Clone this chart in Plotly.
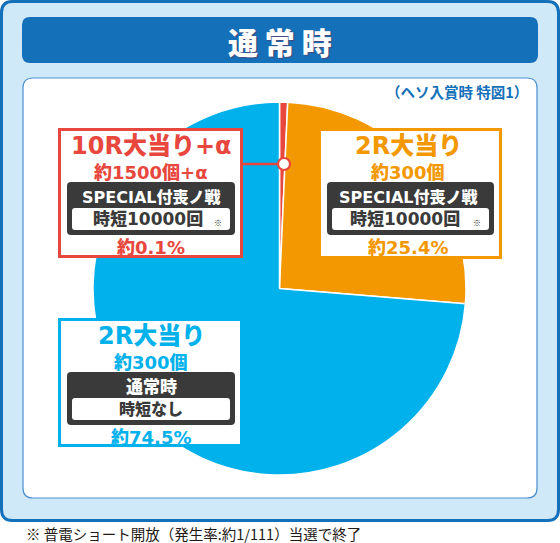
import plotly.graph_objects as go

W, H = 560, 543

# ---------------- data ----------------
title_text = "通常時"
subtitle_text = "（ヘソ入賞時 特図1）"
footer_text = "※ 普電ショート開放（発生率:約1/111）当選で終了"

slice_names = ["10R大当り+α", "2R大当り", "2R大当り"]
slice_shares = [0.7, 25.6, 73.7]          # arc shares as drawn in the picture
slice_colors = ["#e8473d", "#f39800", "#00b1eb"]
prize_lines = ["約1500個+α", "約300個", "約300個"]
mode_lines = ["SPECIAL付喪ノ戦", "SPECIAL付喪ノ戦", "通常時"]
jitan_lines = ["時短10000回", "時短10000回", "時短なし"]
jitan_marks = ["※", "※", ""]
rate_labels = ["約0.1%", "約25.4%", "約74.5%"]

# ---------------- style / layout ----------------
FONT = "DejaVu Sans, Noto Sans CJK JP, sans-serif"
JP = "Noto Sans CJK JP, sans-serif"
NAVY = "#1470b9"
LIGHT = "#cfe9f8"
DARK = "#3a3a3a"

# callout box geometry (pixels): x0, y0, x1, y1, centre x
boxes = [
    dict(x0=58, y0=128, x1=243, y1=258, cx=151),
    dict(x0=318, y0=128, x1=502, y1=259, cx=408),
    dict(x0=58, y0=318, x1=243, y1=447, cx=151),
]
# vertical offsets inside a box, relative to its top
OFF_TITLE, OFF_PRIZE, OFF_DARK0, OFF_DARK1 = 18, 44, 54, 107
OFF_MODE, OFF_W0, OFF_W1, OFF_RATE = 69, 80, 102, 119


def X(px):
    return px / W


def Y(py):
    return 1 - py / H


def rrect(x0, y0, x1, y1, r):
    pts = [
        ("M", [(x0 + r, y0)]), ("L", [(x1 - r, y0)]), ("Q", [(x1, y0), (x1, y0 + r)]),
        ("L", [(x1, y1 - r)]), ("Q", [(x1, y1), (x1 - r, y1)]), ("L", [(x0 + r, y1)]),
        ("Q", [(x0, y1), (x0, y1 - r)]), ("L", [(x0, y0 + r)]), ("Q", [(x0, y0), (x0 + r, y0)]),
    ]
    s = ""
    for cmd, ps in pts:
        s += cmd + " " + " ".join(f"{X(a):.5f},{Y(b):.5f}" for a, b in ps) + " "
    return s + "Z"


fig = go.Figure()

fig.add_trace(go.Pie(
    labels=[f"{n} {r}" for n, r in zip(slice_names, rate_labels)],
    values=slice_shares,
    sort=False,
    direction="clockwise",
    rotation=0,
    marker=dict(colors=slice_colors, line=dict(color="white", width=1.5)),
    textinfo="none",
    hoverinfo="skip",
    showlegend=False,
    domain=dict(x=[X(93), X(466)], y=[Y(475), Y(102)]),
))

shapes = []
# outer panel
shapes.append(dict(type="path", path=rrect(1.5, 1.5, 558.5, 520.5, 11), xref="paper", yref="paper",
                   fillcolor=LIGHT, line=dict(color=NAVY, width=3), layer="below"))
# header bar
shapes.append(dict(type="path", path=rrect(22, 17, 538, 63, 8), xref="paper", yref="paper",
                   fillcolor=NAVY, line=dict(width=0), layer="below"))
# inner white panel
shapes.append(dict(type="path", path=rrect(23, 78, 537, 498, 10), xref="paper", yref="paper",
                   fillcolor="white", line=dict(color="#4b8fd2", width=1.2), layer="below"))

annotations = []


def ann(x, y, text, size, color, xanchor="center", family=FONT, weight=900, shadow=None):
    f = dict(family=family, size=size, color=color, weight=weight)
    if shadow:
        f["shadow"] = shadow
    annotations.append(dict(x=X(x), y=Y(y), xref="paper", yref="paper", text=text,
                            showarrow=False, xanchor=xanchor, yanchor="middle", font=f))


for i, b in enumerate(boxes):
    col = slice_colors[i]
    x0, y0, x1, y1, cx = b["x0"], b["y0"], b["x1"], b["y1"], b["cx"]
    shapes.append(dict(type="rect", xref="paper", yref="paper",
                       x0=X(x0 + 1.5), x1=X(x1 - 1.5), y0=Y(y0 + 1.5), y1=Y(y1 - 1.5),
                       fillcolor="white", line=dict(color=col, width=3), layer="above"))
    shapes.append(dict(type="path", xref="paper", yref="paper", layer="above",
                       path=rrect(x0 + 9, y0 + OFF_DARK0, x1 - 8, y0 + OFF_DARK1, 4),
                       fillcolor=DARK, line=dict(width=0)))
    shapes.append(dict(type="path", xref="paper", yref="paper", layer="above",
                       path=rrect(x0 + 14, y0 + OFF_W0, x1 - 13, y0 + OFF_W1, 3),
                       fillcolor="white", line=dict(width=0)))
    ann(cx, y0 + OFF_TITLE, slice_names[i], 24, col)
    ann(cx, y0 + OFF_PRIZE, prize_lines[i], 18, col)
    ann(cx, y0 + OFF_MODE, mode_lines[i], 16 if i < 2 else 17, "white")
    ann(cx - 3 if jitan_marks[i] else cx, y0 + OFF_W0 + 11, jitan_lines[i], 17 if i < 2 else 16, DARK)
    if jitan_marks[i]:
        ann(x1 - 25, y0 + OFF_W0 + 15, jitan_marks[i], 8, "#222222", family=JP, weight=400)
    ann(cx, y0 + OFF_RATE, rate_labels[i], 18, col)

# connector from the 10R box to the red slice
shapes.append(dict(type="line", xref="paper", yref="paper", layer="above",
                   x0=X(242), x1=X(279), y0=Y(164), y1=Y(164),
                   line=dict(color=slice_colors[0], width=2.5)))
shapes.append(dict(type="circle", xref="paper", yref="paper", layer="above",
                   x0=X(278), x1=X(290), y0=Y(158), y1=Y(170),
                   fillcolor="white", line=dict(color=slice_colors[0], width=2.2)))

# titles
ann(280, 41, "通 常 時", 30, "white", family=JP, shadow="1px 1px 1px rgba(120,40,70,0.55)")
ann(530, 91, subtitle_text, 14.5, NAVY, xanchor="right", family=JP, weight=700)
ann(24, 533, footer_text, 14.5, "#231815", xanchor="left", family=JP, weight=400)

fig.update_layout(
    width=W, height=H,
    margin=dict(l=0, r=0, t=0, b=0),
    paper_bgcolor="white",
    plot_bgcolor="rgba(0,0,0,0)",
    shapes=shapes,
    annotations=annotations,
    showlegend=False,
)

fig.write_html(
    "out.html",
    config={"displayModeBar": False},
    post_script="document.body.style.margin='0';document.body.style.overflow='hidden';",
)
